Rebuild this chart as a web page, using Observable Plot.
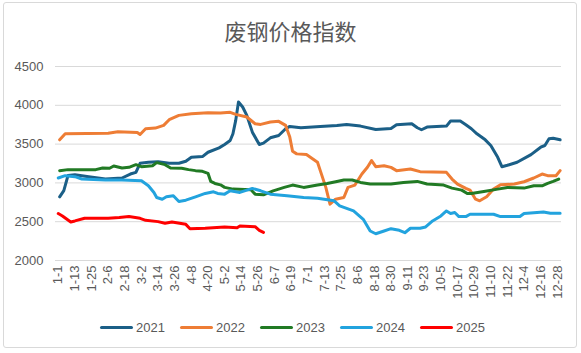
<!DOCTYPE html>
<html>
<head>
<meta charset="utf-8">
<script src="https://cdn.jsdelivr.net/npm/d3@7"></script>
<script src="https://cdn.jsdelivr.net/npm/@observablehq/plot@0.6"></script>
<style>
  html, body { margin: 0; padding: 0; background: #fff; }
  #wrap { position: relative; width: 581px; height: 353px; overflow: hidden; font-family: "Liberation Sans", "Noto Sans CJK SC", sans-serif; }
  #frame { position: absolute; left: 3px; top: 2px; width: 574px; height: 346px; border: 1px solid #d9d9d9; border-radius: 3px; box-sizing: border-box; }
  #title { position: absolute; left: 0; width: 581px; top: 16px; text-align: center; font-size: 22px; color: #595959; font-family: "Noto Sans CJK SC", sans-serif; line-height: 28px; }
  #chart { position: absolute; left: 0; top: 0; }
  #legend { position: absolute; top: 319px; left: 0; height: 16px; }
  .item { position: absolute; top: 0; display: flex; align-items: center; height: 16px; }
  .sw { width: 33px; height: 3px; border-radius: 1.5px; margin-right: 3px; }
  .lab { font-size: 13px; color: #595959; }
</style>
</head>
<body>
<div id="wrap">
  <div id="frame"></div>
  <div id="chart"></div>
  <div id="title">废钢价格指数</div>
  <div id="legend"></div>
</div>
<script>
// Tick labels (one every 12 positions on the day axis)
const tickLabels = ["1-1","1-13","1-25","2-6","2-18","3-2","3-14","3-26","4-8","4-20","5-2","5-14","5-26","6-7","6-19","7-1","7-13","7-25","8-6","8-18","8-30","9-11","9-23","10-5","10-17","10-29","11-10","11-22","12-4","12-16","12-28"];
const yTicks = [2000, 2500, 3000, 3500, 4000, 4500];
const years = ["2021", "2022", "2023", "2024", "2025"];
const colors = ["#1b5f87", "#ee7d35", "#217a24", "#22a3de", "#ff0000"];

const days2021 = [1,4,7,12,22,34,46,52,56,59,65,72,80,87,92,96,104,108,116,120,124,126,128,130,133,136,140,145,148,153,159,164,167,175,189,201,208,218,229,240,244,255,259,262,266,280,283,290,294,298,302,308,312,317,320,324,331,341,348,351,354,357,362];
const vals2021 = [2820,2900,3095,3105,3080,3050,3063,3114,3136,3253,3266,3274,3253,3253,3279,3330,3339,3395,3451,3494,3546,3633,3806,4043,3978,3870,3654,3495,3512,3581,3611,3698,3728,3711,3728,3741,3754,3732,3689,3700,3749,3762,3711,3685,3719,3732,3797,3797,3749,3698,3633,3555,3482,3330,3209,3227,3266,3365,3460,3482,3568,3576,3555];

const days2022 = [1,5,36,43,57,59,63,70,76,80,87,96,108,117,124,128,136,142,146,153,159,164,167,169,172,179,187,189,193,196,200,206,209,214,219,223,226,229,235,240,244,254,261,280,284,288,294,297,301,304,309,314,319,329,336,343,349,353,359,362];
const vals2022 = [3555,3633,3640,3659,3650,3624,3698,3706,3741,3814,3870,3892,3905,3900,3909,3883,3849,3762,3754,3784,3793,3741,3590,3408,3374,3365,3266,3158,2942,2726,2790,2812,2942,2972,3114,3201,3287,3209,3222,3200,3158,3179,3145,3136,3050,2985,2929,2907,2790,2769,2821,2920,2976,2985,3015,3063,3114,3093,3093,3158];

const days2023 = [1,7,27,32,37,40,46,51,56,60,68,71,77,81,89,94,99,104,108,110,113,117,120,126,139,142,148,155,163,169,177,187,194,201,206,212,218,225,240,249,259,266,278,284,291,295,298,307,317,324,336,343,349,353,357,361];
const vals2023 = [3158,3171,3171,3192,3188,3218,3192,3201,3235,3209,3222,3261,3235,3192,3188,3171,3158,3149,3123,3019,2993,2975,2942,2920,2911,2855,2847,2898,2942,2972,2942,2972,2993,3019,3037,3037,3006,2985,2985,3006,3019,2985,2972,2933,2907,2864,2864,2890,2920,2942,2933,2963,2963,2993,3019,3050];

const days2024 = [0,5,12,17,34,46,60,65,69,71,75,78,83,87,92,99,106,112,115,120,124,131,140,146,153,165,177,187,199,203,213,220,225,229,235,240,246,250,254,261,265,270,276,280,283,286,289,294,297,314,319,333,336,350,355,362];
const vals2024 = [3063,3093,3080,3050,3037,3037,3028,2963,2877,2812,2790,2821,2834,2760,2777,2821,2864,2885,2864,2855,2898,2877,2929,2898,2855,2834,2812,2803,2769,2704,2639,2531,2380,2345,2380,2410,2389,2358,2415,2415,2432,2510,2574,2639,2605,2618,2566,2566,2596,2596,2566,2566,2605,2626,2609,2609];

const days2025 = [0,3,9,12,19,36,44,51,59,63,72,77,82,92,95,106,120,129,131,142,145,148];
const vals2025 = [2605,2574,2497,2510,2544,2544,2553,2566,2544,2518,2501,2479,2497,2466,2410,2415,2432,2423,2445,2436,2389,2363];

const seriesDays = [days2021, days2022, days2023, days2024, days2025];
const seriesVals = [vals2021, vals2022, vals2023, vals2024, vals2025];

const rows = [];
years.forEach((yr, k) => {
  seriesDays[k].forEach((d, i) => rows.push({year: yr, day: d, value: seriesVals[k][i]}));
});
const tickDays = tickLabels.map((_, i) => i * 12);

const chart = Plot.plot({
  width: 581,
  height: 353,
  marginLeft: 55,
  marginRight: 20,
  marginTop: 66,
  marginBottom: 93,
  style: {fontFamily: "'Liberation Sans', sans-serif", fontSize: "13px", color: "#595959", background: "transparent"},
  x: {domain: [-2, 363]},
  y: {domain: [2000, 4500]},
  color: {domain: years, range: colors},
  marks: [
    Plot.gridY(yTicks, {stroke: "#d9d9d9", strokeOpacity: 1, strokeWidth: 1}),
    Plot.axisY(yTicks, {tickSize: 0, tickPadding: 12, label: null, tickFormat: d => String(d), fill: "#595959", fontSize: 13}),
    Plot.axisX(tickDays, {tickSize: 0, tickPadding: 5, tickRotate: -90, label: null, tickFormat: d => tickLabels[Math.round(d / 12)], fill: "#595959", fontSize: 13}),
    Plot.line(rows, {x: "day", y: "value", z: "year", stroke: "year", strokeWidth: 3, strokeLinejoin: "round", strokeLinecap: "round"})
  ]
});
document.getElementById("chart").appendChild(chart);

const legend = document.getElementById("legend");
years.forEach((yr, k) => {
  const it = document.createElement("div");
  it.className = "item";
  it.style.left = (100 + k * 80) + "px";
  const sw = document.createElement("div");
  sw.className = "sw";
  sw.style.background = colors[k];
  const lb = document.createElement("span");
  lb.className = "lab";
  lb.textContent = yr;
  it.appendChild(sw);
  it.appendChild(lb);
  legend.appendChild(it);
});
</script>
</body>
</html>
